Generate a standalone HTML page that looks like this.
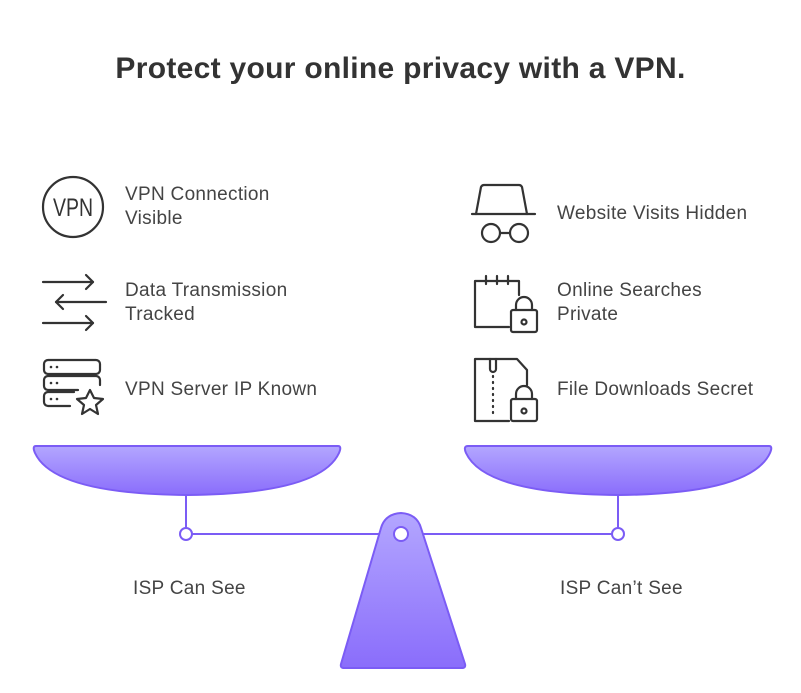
<!DOCTYPE html>
<html><head><style>
body{margin:0;width:801px;height:693px;background:#fff;font-family:"Liberation Sans",sans-serif;position:relative;overflow:hidden}
.t{position:absolute;color:#444;font-size:19px;line-height:24px;letter-spacing:0.3px}
h1{position:absolute;top:52px;left:0;width:801px;text-align:center;margin:0;font-size:30px;color:#333;font-weight:bold;letter-spacing:0.3px}
</style></head><body>
<h1>Protect your online privacy with a VPN.</h1>
<div class="t" style="left:125px;top:183px">VPN Connection<br>Visible</div>
<div class="t" style="left:125px;top:279px">Data Transmission<br>Tracked</div>
<div class="t" style="left:125px;top:378px">VPN Server IP Known</div>
<div class="t" style="left:557px;top:202px">Website Visits Hidden</div>
<div class="t" style="left:557px;top:279px">Online Searches<br>Private</div>
<div class="t" style="left:557px;top:378px">File Downloads Secret</div>
<div class="t" style="left:133px;top:577px">ISP Can See</div>
<div class="t" style="left:560px;top:577px">ISP Can’t See</div>
<svg width="801" height="693" style="position:absolute;left:0;top:0">
<defs><linearGradient id="g" x1="0" y1="0" x2="0" y2="1"><stop offset="0" stop-color="#b3a6ff"/><stop offset="1" stop-color="#8a6dfb"/></linearGradient></defs>
<g fill="none" stroke="#333" stroke-width="2.2" stroke-linecap="round" stroke-linejoin="round">
<circle cx="73" cy="207" r="30"/>
<line x1="43" y1="282" x2="93" y2="282"/><polyline points="86,275 93,282 86,289"/>
<line x1="56" y1="302" x2="106" y2="302"/><polyline points="63,295 56,302 63,309"/>
<line x1="43" y1="323" x2="93" y2="323"/><polyline points="86,316 93,323 86,330"/>
<rect x="44" y="360" width="56" height="14" rx="4"/><path d="M100 385 V380 a4 4 0 0 0-4-4 H48 a4 4 0 0 0-4 4 v6 a4 4 0 0 0 4 4 h30"/><path d="M70 406 H48 a4 4 0 0 1-4-4 v-6 a4 4 0 0 1 4-4 h26"/>
<path d="M90 390 l4 8 9 1 -7 6 2 9 -8-5 -8 5 2-9 -7-6 9-1z"/>
<path d="M476 214 L481 187 Q482 185 484 185 H519 Q521 185 522 187 L527 214"/><line x1="472" y1="214" x2="535" y2="214"/>
<circle cx="491" cy="233" r="9"/><circle cx="519" cy="233" r="9"/><line x1="500" y1="233" x2="510" y2="233"/>
<path d="M509 327 H475 V281 H519 V295"/><line x1="486" y1="276" x2="486" y2="284"/><line x1="497" y1="276" x2="497" y2="284"/><line x1="508" y1="276" x2="508" y2="284"/>
<rect x="511" y="310" width="26" height="22" rx="2"/><path d="M516 310 v-5 a8 8 0 0 1 16 0 v5"/><circle cx="524" cy="322" r="2.5"/>
<path d="M509 421 H475 V359 H517 L527 370 V385"/><path d="M490 359 v10 a3 3 0 0 0 6 0 v-10"/>
<path d="M493 376 v40" stroke-dasharray="1 5"/>
<rect x="511" y="399" width="26" height="22" rx="2"/><path d="M516 399 v-5 a8 8 0 0 1 16 0 v5"/><circle cx="524" cy="411" r="2.5"/>
</g>
<g fill="#333"><circle cx="51" cy="367" r="1.3"/><circle cx="57" cy="367" r="1.3"/><circle cx="51" cy="383" r="1.3"/><circle cx="57" cy="383" r="1.3"/><circle cx="51" cy="399" r="1.3"/><circle cx="57" cy="399" r="1.3"/></g>
<text x="53" y="216" textLength="40" lengthAdjust="spacingAndGlyphs" font-family="Liberation Sans" font-size="25" fill="#333">VPN</text>
<g stroke="#7b5cf5" stroke-width="2">
<path d="M36 446 H338 Q342 446 339 453 Q320 494 187 495 Q54 494 35 453 Q32 446 36 446Z" fill="url(#g)"/>
<path d="M468 446 H769 Q773 446 770 453 Q751 494 618 495 Q485 494 466 453 Q463 446 468 446Z" fill="url(#g)"/>
<line x1="186" y1="495" x2="186" y2="528"/><line x1="618" y1="495" x2="618" y2="528"/>
<line x1="192" y1="534" x2="612" y2="534"/>
<path d="M381 528 Q385 514 401 513 Q417 514 421 528 L465 664 Q466 668 462 668 H344 Q340 668 341 664Z" fill="url(#g)"/>
<circle cx="186" cy="534" r="6" fill="#fff"/><circle cx="618" cy="534" r="6" fill="#fff"/><circle cx="401" cy="534" r="7" fill="#fff"/>
</g>
</svg>
</body></html>
